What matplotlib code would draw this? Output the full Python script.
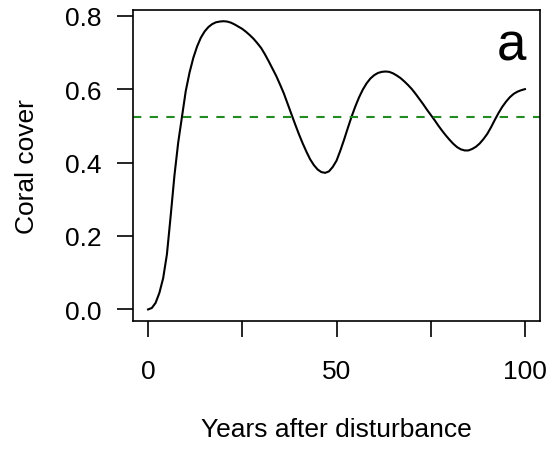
import matplotlib
matplotlib.use("Agg")
import matplotlib.pyplot as plt
import numpy as np

# values, one per year
years = list(range(0, 101))
cover = [0.000, 0.004, 0.018, 0.045, 0.085, 0.150, 0.255, 0.365, 0.455, 0.525,
         0.595, 0.645, 0.685, 0.716, 0.740, 0.757, 0.769, 0.777, 0.782, 0.784,
         0.785, 0.784, 0.781, 0.776, 0.770, 0.764, 0.756, 0.747, 0.737, 0.725,
         0.712, 0.695, 0.676, 0.656, 0.636, 0.613, 0.589, 0.561, 0.533, 0.505,
         0.478, 0.453, 0.430, 0.409, 0.393, 0.381, 0.374, 0.372, 0.376, 0.388,
         0.405, 0.432, 0.462, 0.494, 0.525, 0.553, 0.578, 0.599, 0.616, 0.629,
         0.638, 0.644, 0.647, 0.648, 0.647, 0.643, 0.637, 0.630, 0.621, 0.611,
         0.600, 0.587, 0.573, 0.559, 0.544, 0.530, 0.516, 0.501, 0.487, 0.474,
         0.462, 0.451, 0.442, 0.436, 0.433, 0.433, 0.437, 0.443, 0.452, 0.464,
         0.478, 0.496, 0.516, 0.535, 0.552, 0.566, 0.578, 0.587, 0.593, 0.597,
         0.600]
mean_cover = 0.525

xticks = [0, 25, 50, 75, 100]
xticklabels = ['0', '', '50', '', '100']
yticks = [0.0, 0.2, 0.4, 0.6, 0.8]
yticklabels = ['0.0', '0.2', '0.4', '0.6', '0.8']

plt.rcParams['font.family'] = ['Liberation Sans', 'DejaVu Sans']

fig = plt.figure(figsize=(5.55, 4.52), dpi=100)
ax = fig.add_axes([133/555, 1 - 322/452, 407/555, 311/452])

ax.plot(np.array(years), np.array(cover), color='black', lw=1.5)
ax.axhline(mean_cover, color='#228B22', lw=1.5, ls=(0, (4, 4)))

ax.set_xlim(-4, 104)
ax.set_ylim(-0.0315, 0.8155)
ax.set_xticks(xticks)
ax.set_xticklabels(xticklabels)
ax.set_yticks(yticks)
ax.set_yticklabels(yticklabels)
ax.tick_params(axis='both', direction='out', length=11.5, width=1.2,
               labelsize=19)
ax.tick_params(axis='x', pad=16)
ax.tick_params(axis='y', pad=11)
for s in ax.spines.values():
    s.set_linewidth(1.2)

ax.set_xlabel('Years after disturbance', fontsize=19)
ax.set_ylabel('Coral cover', fontsize=19)
ax.xaxis.set_label_coords(0.5, -0.3085)
ax.yaxis.set_label_coords(-0.231, 0.5)

ax.text(0.931, 0.842, 'a', transform=ax.transAxes, fontsize=38,
        ha='center', va='baseline')

fig.savefig('out.png', dpi=100)
